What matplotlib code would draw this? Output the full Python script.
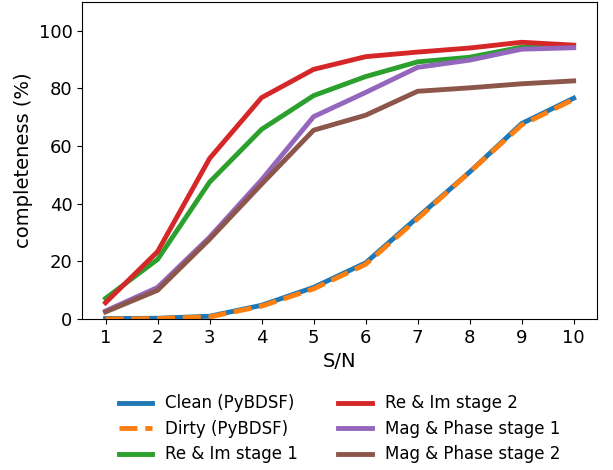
import matplotlib
matplotlib.use("Agg")
import matplotlib.pyplot as plt

snr = [1, 2, 3, 4, 5, 6, 7, 8, 9, 10]
clean = [0.2, 0.3, 1.0, 4.8, 11.0, 19.5, 35.3, 51.0, 67.8, 76.6]
dirty = [0.0, 0.2, 0.8, 4.5, 10.5, 19.0, 34.8, 51.0, 67.3, 76.2]
reim1 = [7.2, 20.7, 47.5, 65.8, 77.5, 84.1, 89.2, 90.8, 94.3, 94.5]
reim2 = [5.7, 23.4, 55.7, 76.8, 86.6, 91.0, 92.6, 94.0, 96.0, 95.0]
magph1 = [2.8, 11.0, 28.4, 48.3, 70.2, 78.6, 87.3, 89.8, 93.6, 94.1]
magph2 = [2.5, 10.0, 27.7, 46.8, 65.5, 70.7, 79.0, 80.2, 81.6, 82.6]

fig = plt.figure(figsize=(6.13, 4.70), dpi=100)
ax = fig.add_axes([0.134, 0.321, 0.840, 0.675])

lw = 3.5
ax.plot(snr, clean, color="tab:blue", lw=lw, label="Clean (PyBDSF)")
ax.plot(snr, dirty, color="tab:orange", lw=lw, ls="--", label="Dirty (PyBDSF)")
ax.plot(snr, reim1, color="tab:green", lw=lw, label="Re & Im stage 1")
ax.plot(snr, reim2, color="tab:red", lw=lw, label="Re & Im stage 2")
ax.plot(snr, magph1, color="tab:purple", lw=lw, label="Mag & Phase stage 1")
ax.plot(snr, magph2, color="tab:brown", lw=lw, label="Mag & Phase stage 2")

ax.set_ylim(0, 110)
ax.set_xticks(snr)
ax.tick_params(labelsize=13)
ax.set_xlabel("S/N", fontsize=14)
ax.set_ylabel("completeness (%)", fontsize=14)

ax.legend(loc="upper center", bbox_to_anchor=(0.5, -0.19), ncol=2,
          frameon=False, fontsize=12, columnspacing=2.4, labelspacing=0.45)

fig.savefig("out.png", dpi=100)
